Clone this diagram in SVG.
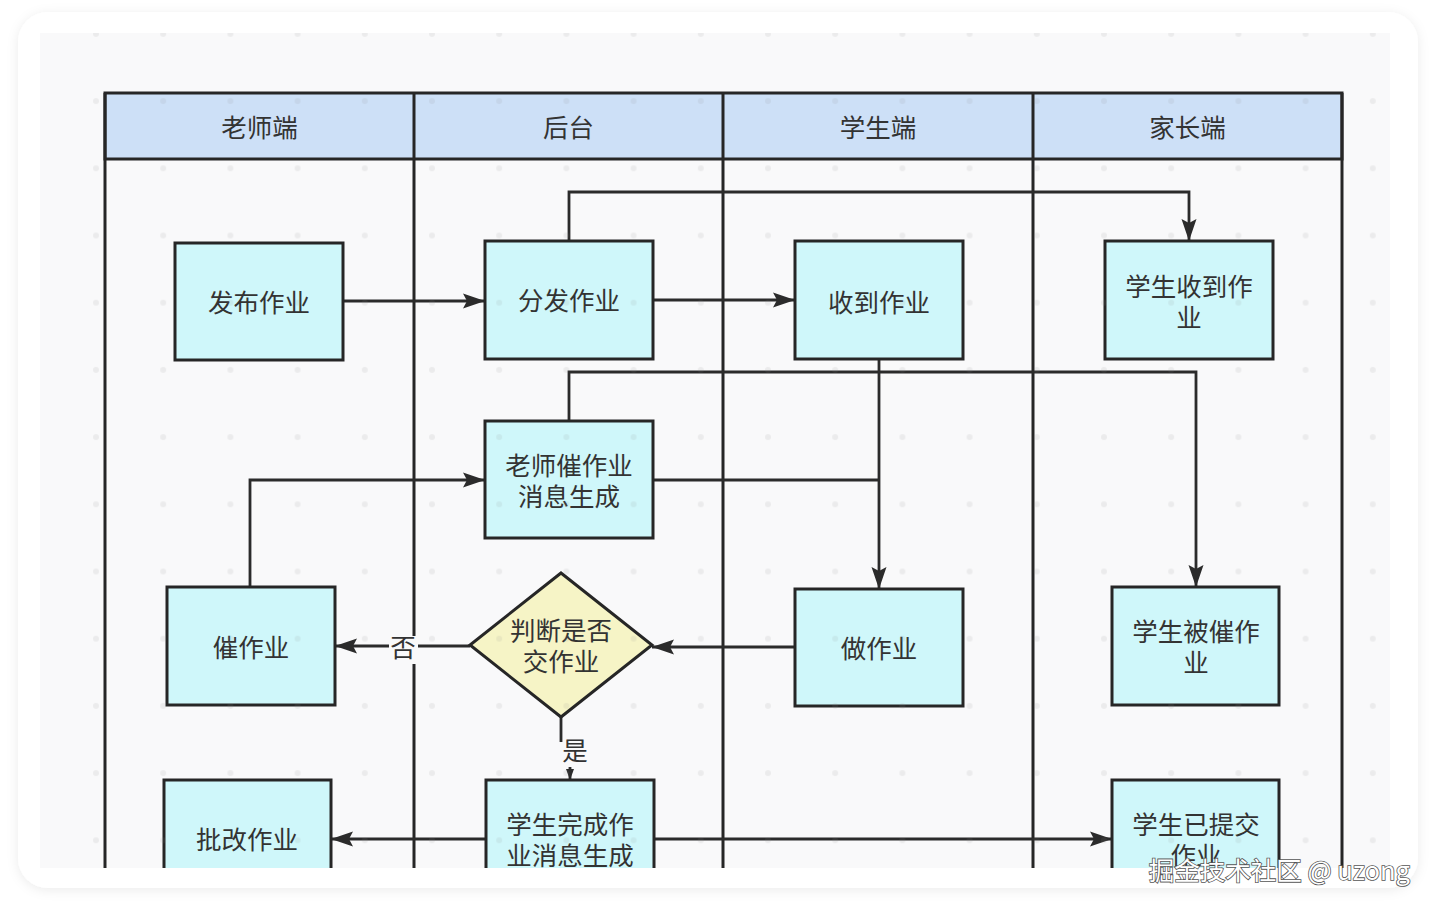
<svg xmlns="http://www.w3.org/2000/svg" width="1435" height="911" viewBox="0 0 1435 911">
  <defs>
    <style>
      .lane { fill: none; stroke: #262626; stroke-width: 3; }
      .hdr { fill: #cde0f7; stroke: #262626; stroke-width: 3; }
      .node { fill: #cff7fa; stroke: #262626; stroke-width: 3; }
      .dec { fill: #f6f4c6; stroke: #262626; stroke-width: 3; }
      .t { font-family: "Noto Sans CJK SC", "Noto Sans", sans-serif; font-size: 25.5px; fill: #333333; text-anchor: middle; dominant-baseline: central; }
      .conn path { fill: none; stroke: #2b2b2b; stroke-width: 2.8; }
      .lbl { fill: #f9f9fa; }
    </style>
    <marker id="arr" markerUnits="userSpaceOnUse" markerWidth="24" markerHeight="18" refX="22" refY="9" orient="auto">
      <path d="M0,1.5 L22,9 L0,16.5 L4,9 z" fill="#2b2b2b"/>
    </marker>
    <marker id="arrs" markerUnits="userSpaceOnUse" markerWidth="12" markerHeight="12" refX="11" refY="5" orient="auto">
      <path d="M0,1 L11,5 L0,9 z" fill="#2b2b2b"/>
    </marker>
    <pattern id="dots" x="62.4" y="67.5" width="67.2" height="67.2" patternUnits="userSpaceOnUse">
      <circle cx="33.6" cy="33.6" r="3" fill="#888888"/>
    </pattern>
    <clipPath id="cc">
      <rect x="40" y="33" width="1350" height="835"/>
    </clipPath>
    <filter id="sh" x="-5%" y="-5%" width="110%" height="110%">
      <feDropShadow dx="0" dy="2" stdDeviation="6" flood-color="#000" flood-opacity="0.08"/>
    </filter>
  </defs>

  <rect x="0" y="0" width="1435" height="911" fill="#ffffff"/>
  <rect x="18" y="12" width="1400" height="876" rx="30" fill="#ffffff" filter="url(#sh)"/>

  <g clip-path="url(#cc)">
    <rect x="40" y="33" width="1350" height="835" fill="#f9f9fa"/>

    <g id="lanes">
      <rect class="hdr" x="105" y="93" width="1237" height="66"/>
      <path class="lane" d="M105,93 V900 M414,93 V900 M723,93 V900 M1033,93 V900 M1342,93 V900"/>
      <text class="t" x="259.5" y="125">老师端</text>
      <text class="t" x="568.5" y="125">后台</text>
      <text class="t" x="878" y="125">学生端</text>
      <text class="t" x="1187.5" y="125">家长端</text>
    </g>

    <g id="connectors" class="conn">
      <path d="M343,301 H485" marker-end="url(#arr)"/>
      <path d="M653,300 H795" marker-end="url(#arr)"/>
      <path d="M569,241 V192 H1189 V241" marker-end="url(#arr)"/>
      <path d="M569,421 V372 H1196 V587" marker-end="url(#arr)"/>
      <path d="M879,359 V589" marker-end="url(#arr)"/>
      <path d="M653,480 H879"/>
      <path d="M250,587 V480 H485" marker-end="url(#arr)"/>
      <path d="M795,647 H652" marker-end="url(#arr)"/>
      <path d="M470,646 H335" marker-end="url(#arr)"/>
      <path d="M561,717 V755 H570 V780" marker-end="url(#arrs)"/>
      <path d="M486,839 H331" marker-end="url(#arr)"/>
      <path d="M654,839 H1112" marker-end="url(#arr)"/>
      <rect class="lbl" x="389" y="636" width="29" height="28"/>
      <text class="t" x="403" y="645">否</text>
      <rect class="lbl" x="557" y="742" width="34" height="25"/>
      <text class="t" x="575" y="748">是</text>
    </g>

    <g id="n-fabu">
      <rect class="node" x="175" y="243" width="168" height="117"/>
      <text class="t" x="259" y="300">发布作业</text>
    </g>
    <g id="n-fenfa">
      <rect class="node" x="485" y="241" width="168" height="118"/>
      <text class="t" x="569" y="298">分发作业</text>
    </g>
    <g id="n-shoudao">
      <rect class="node" x="795" y="241" width="168" height="118"/>
      <text class="t" x="879" y="300">收到作业</text>
    </g>
    <g id="n-xsshoudao">
      <rect class="node" x="1105" y="241" width="168" height="118"/>
      <text class="t" x="1189" y="284">学生收到作</text>
      <text class="t" x="1189" y="315">业</text>
    </g>
    <g id="n-cuixiaoxi">
      <rect class="node" x="485" y="421" width="168" height="117"/>
      <text class="t" x="569" y="463">老师催作业</text>
      <text class="t" x="569" y="494">消息生成</text>
    </g>
    <g id="n-cui">
      <rect class="node" x="167" y="587" width="168" height="118"/>
      <text class="t" x="251" y="645">催作业</text>
    </g>
    <g id="n-panduan">
      <polygon class="dec" points="561,573 652,645 561,717 470,645"/>
      <text class="t" x="561" y="628">判断是否</text>
      <text class="t" x="561" y="659">交作业</text>
    </g>
    <g id="n-zuo">
      <rect class="node" x="795" y="589" width="168" height="117"/>
      <text class="t" x="879" y="646">做作业</text>
    </g>
    <g id="n-beicui">
      <rect class="node" x="1112" y="587" width="167" height="118"/>
      <text class="t" x="1196" y="629">学生被催作</text>
      <text class="t" x="1196" y="660">业</text>
    </g>
    <g id="n-pigai">
      <rect class="node" x="164" y="780" width="167" height="118"/>
      <text class="t" x="247" y="837">批改作业</text>
    </g>
    <g id="n-wancheng">
      <rect class="node" x="486" y="780" width="168" height="118"/>
      <text class="t" x="570" y="822">学生完成作</text>
      <text class="t" x="570" y="853">业消息生成</text>
    </g>
    <g id="n-tijiao">
      <rect class="node" x="1112" y="780" width="167" height="118"/>
      <text class="t" x="1196" y="822">学生已提交</text>
      <text class="t" x="1196" y="853">作业</text>
    </g>

    <rect x="40" y="33" width="1350" height="835" fill="url(#dots)" opacity="0.12"/>
  </g>

  <text x="1410" y="868" font-family="Noto Sans CJK SC, Noto Sans, sans-serif" font-size="25.5" fill="#ffffff" stroke="#555555" stroke-width="1.6" paint-order="stroke" text-anchor="end" dominant-baseline="central">掘金技术社区 @ uzong</text>
</svg>
